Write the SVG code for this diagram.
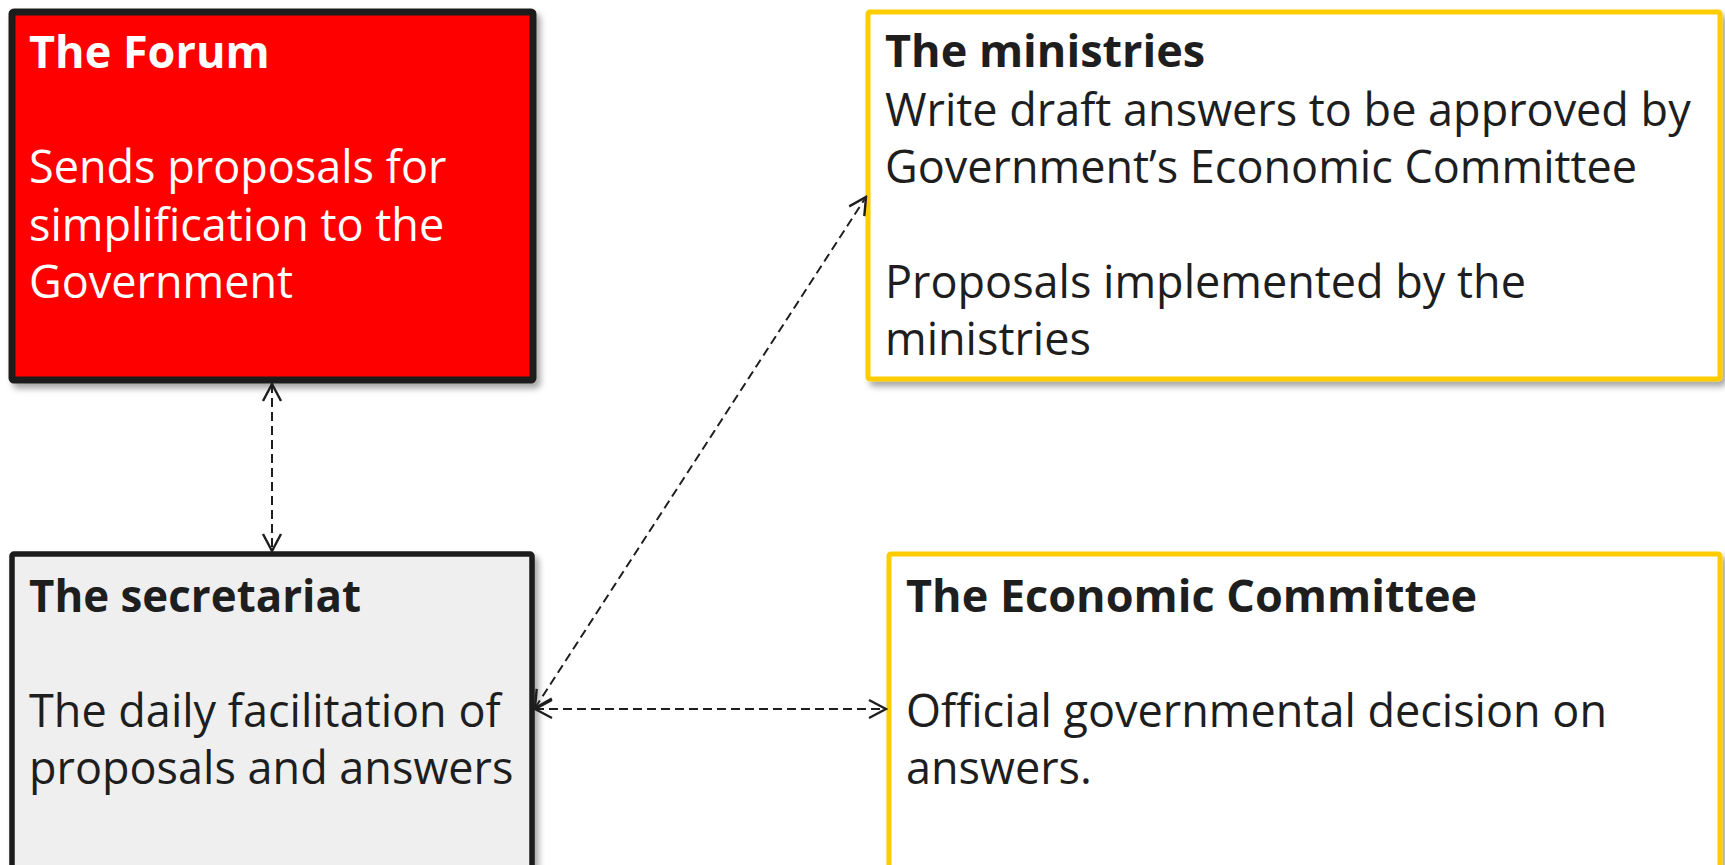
<svg xmlns="http://www.w3.org/2000/svg" width="1725" height="865" viewBox="0 0 1725 865">
<style>
.box{stroke-linejoin:round}
.t{font-family:"Open Sans","Noto Sans","Liberation Sans",sans-serif;font-size:45px}
.b{font-weight:bold}
.dark{fill:#1e1e1e}
.white{fill:#ffffff}
.conn{fill:none;stroke:#1e1e1e;stroke-width:2;stroke-dasharray:9 5}
</style>
<defs>
<filter id="sh" x="-5%" y="-5%" width="115%" height="115%">
<feDropShadow dx="4" dy="5" stdDeviation="3" flood-color="#000" flood-opacity="0.35"/>
</filter>
<marker id="arr" viewBox="0 0 22 22" refX="20" refY="11" markerWidth="22" markerHeight="22" markerUnits="userSpaceOnUse" orient="auto-start-reverse">
<path d="M3 2 L20 11 L3 20" fill="none" stroke="#1e1e1e" stroke-width="2.4" stroke-linejoin="miter"/>
</marker>
</defs>
<g id="forum">
<rect class="box" x="12" y="12" width="521" height="368" rx="2" fill="#ff0000" stroke="#1e1e1e" stroke-width="7" filter="url(#sh)"/>
<text class="t b white" x="29" y="68">The Forum</text>
<text class="t white" x="29" y="183">Sends proposals for</text>
<text class="t white" x="29" y="241">simplification to the</text>
<text class="t white" x="29" y="298">Government</text>
</g>
<g id="secretariat">
<rect class="box" x="12" y="554" width="520" height="320" rx="2" fill="#efefef" stroke="#1e1e1e" stroke-width="5.5" filter="url(#sh)"/>
<text class="t b dark" x="29" y="612" textLength="332" lengthAdjust="spacingAndGlyphs">The secretariat</text>
<text class="t dark" x="29" y="727">The daily facilitation of</text>
<text class="t dark" x="29" y="784">proposals and answers</text>
</g>
<g id="ministries">
<rect class="box" x="868" y="12" width="852" height="367" rx="2" fill="#ffffff" stroke="#ffcc00" stroke-width="5" filter="url(#sh)"/>
<text class="t b dark" x="885" y="67">The ministries</text>
<text class="t dark" x="885" y="126">Write draft answers to be approved by</text>
<text class="t dark" x="885" y="183">Government’s Economic Committee</text>
<text class="t dark" x="885" y="298">Proposals implemented by the</text>
<text class="t dark" x="885" y="355">ministries</text>
</g>
<g id="economic-committee">
<rect class="box" x="889" y="554" width="831" height="320" rx="2" fill="#ffffff" stroke="#ffcc00" stroke-width="5" filter="url(#sh)"/>
<text class="t b dark" x="906" y="612">The Economic Committee</text>
<text class="t dark" x="906" y="727">Official governmental decision on</text>
<text class="t dark" x="906" y="784">answers.</text>
</g>
<g id="connectors">
<line class="conn" x1="272" y1="384" x2="272" y2="551" marker-start="url(#arr)" marker-end="url(#arr)"/>
<line class="conn" x1="535" y1="708" x2="866" y2="197" marker-start="url(#arr)" marker-end="url(#arr)"/>
<line class="conn" x1="535" y1="709" x2="886" y2="709" marker-start="url(#arr)" marker-end="url(#arr)"/>
</g>
</svg>
